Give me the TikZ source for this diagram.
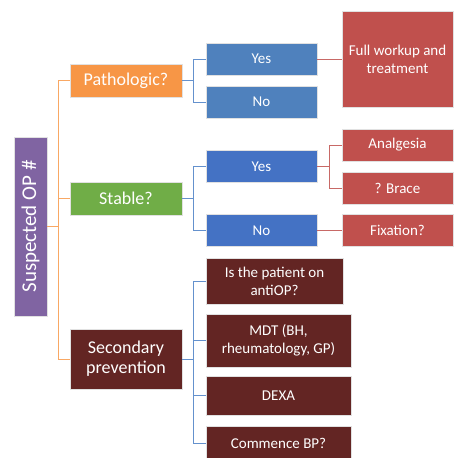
\documentclass[tikz,border=0pt]{standalone}
\usepackage{fontspec}
\setmainfont{Carlito}
\begin{document}
\begin{tikzpicture}[x=1pt,y=-1pt,
  box/.style={draw={rgb,255:red,225;green,225;blue,225}, line width=0.8pt, text=white, inner sep=2pt, align=center, anchor=center},
  lvlone/.style={box, minimum width=112pt, font=\fontsize{18}{20}\selectfont},
  lvltwo/.style={box, minimum width=111pt, minimum height=32pt, font=\fontsize{15}{18}\selectfont},
  oline/.style={draw={rgb,255:red,249;green,168;blue,100}, line width=1pt},
  bline/.style={draw={rgb,255:red,100;green,145;blue,205}, line width=1pt},
  rline/.style={draw={rgb,255:red,200;green,105;blue,102}, line width=1pt}
]
\definecolor{cpurple}{HTML}{8064A2}
\definecolor{corange}{HTML}{F79646}
\definecolor{cgreen}{HTML}{70AD47}
\definecolor{cblueA}{HTML}{4F81BD}
\definecolor{cblueB}{HTML}{4472C4}
\definecolor{cred}{HTML}{C0504D}
\definecolor{cdark}{HTML}{632523}
\useasboundingbox (0,0) rectangle (459,458);

% root
\node[box, fill=cpurple, minimum width=33pt, minimum height=179pt] (root) at (30.5,226.5) {};
\node[rotate=90, text=white, font=\fontsize{21}{24}\selectfont] (roottext) at (root.center) {Suspected OP \#};

% level one
\node[lvlone, fill=corange, minimum height=33pt] (patho) at (126,80.5) {Pathologic?};
\node[lvlone, fill=cgreen, minimum height=33pt] (stable) at (126,198.5) {Stable?};
\node[lvlone, fill=cdark, minimum height=60pt] (second) at (126,359) {Secondary\\prevention};

% level two
\node[lvltwo, fill=cblueA] (pyes) at (261.5,59) {Yes};
\node[lvltwo, fill=cblueA] (pno) at (261.5,102) {No};
\node[lvltwo, fill=cblueB] (syes) at (261.5,166.5) {Yes};
\node[lvltwo, fill=cblueB] (sno) at (261.5,230.5) {No};

% level three
\node[lvltwo, fill=cred, minimum height=96pt, anchor=north] (full) at (397.5,11) {};
\node[text=white, font=\fontsize{15}{18}\selectfont, align=center] (fulltext) at (397.5,59) {Full workup and\\treatment};
\node[lvltwo, fill=cred] (analg) at (397.5,145) {Analgesia};
\node[lvltwo, fill=cred] (brace) at (397.5,188) {? Brace};
\node[lvltwo, fill=cred] (fix) at (397.5,230.5) {Fixation?};

% secondary children
\node[lvltwo, fill=cdark, minimum width=137pt, minimum height=46pt] (antiop) at (274.5,281) {Is the patient on\\antiOP?};
\node[lvltwo, fill=cdark, minimum width=145pt, minimum height=53pt] (mdt) at (278.5,340.5) {MDT (BH,\\rheumatology, GP)};
\node[lvltwo, fill=cdark, minimum width=145pt, minimum height=39pt] (dexa) at (278.5,395.5) {DEXA};
\node[lvltwo, fill=cdark, minimum width=145pt, minimum height=34pt] (bp) at (278.5,443) {Commence BP?};

% connectors: root
\coordinate (ob) at (58.5,226.5);
\draw[oline] (root.east) -- (ob);
\draw[oline] (ob) |- (patho.west);
\draw[oline] (ob) |- (stable.west);
\draw[oline] (ob) |- (second.west);

% pathologic
\coordinate (pb) at (193.5,80.5);
\draw[bline] (patho.east) -- (pb);
\draw[bline] (pb) |- (pyes.west);
\draw[bline] (pb) |- (pno.west);
\draw[rline] (pyes.east) -- (full.west |- pyes.east);

% stable
\coordinate (sb) at (193.5,198.5);
\draw[bline] (stable.east) -- (sb);
\draw[bline] (sb) |- (syes.west);
\draw[bline] (sb) |- (sno.west);
\coordinate (rb) at (329.5,166.5);
\draw[rline] (syes.east) -- (rb);
\draw[rline] (rb) |- (analg.west);
\draw[rline] (rb) |- (brace.west);
\draw[rline] (sno.east) -- (fix.west);

% secondary
\coordinate (db) at (193.5,359);
\draw[bline] (second.east) -- (db);
\draw[bline] (db) |- (antiop.west);
\draw[bline] (db) |- (mdt.west);
\draw[bline] (db) |- (dexa.west);
\draw[bline] (db) |- (bp.west);
\end{tikzpicture}
\end{document}
